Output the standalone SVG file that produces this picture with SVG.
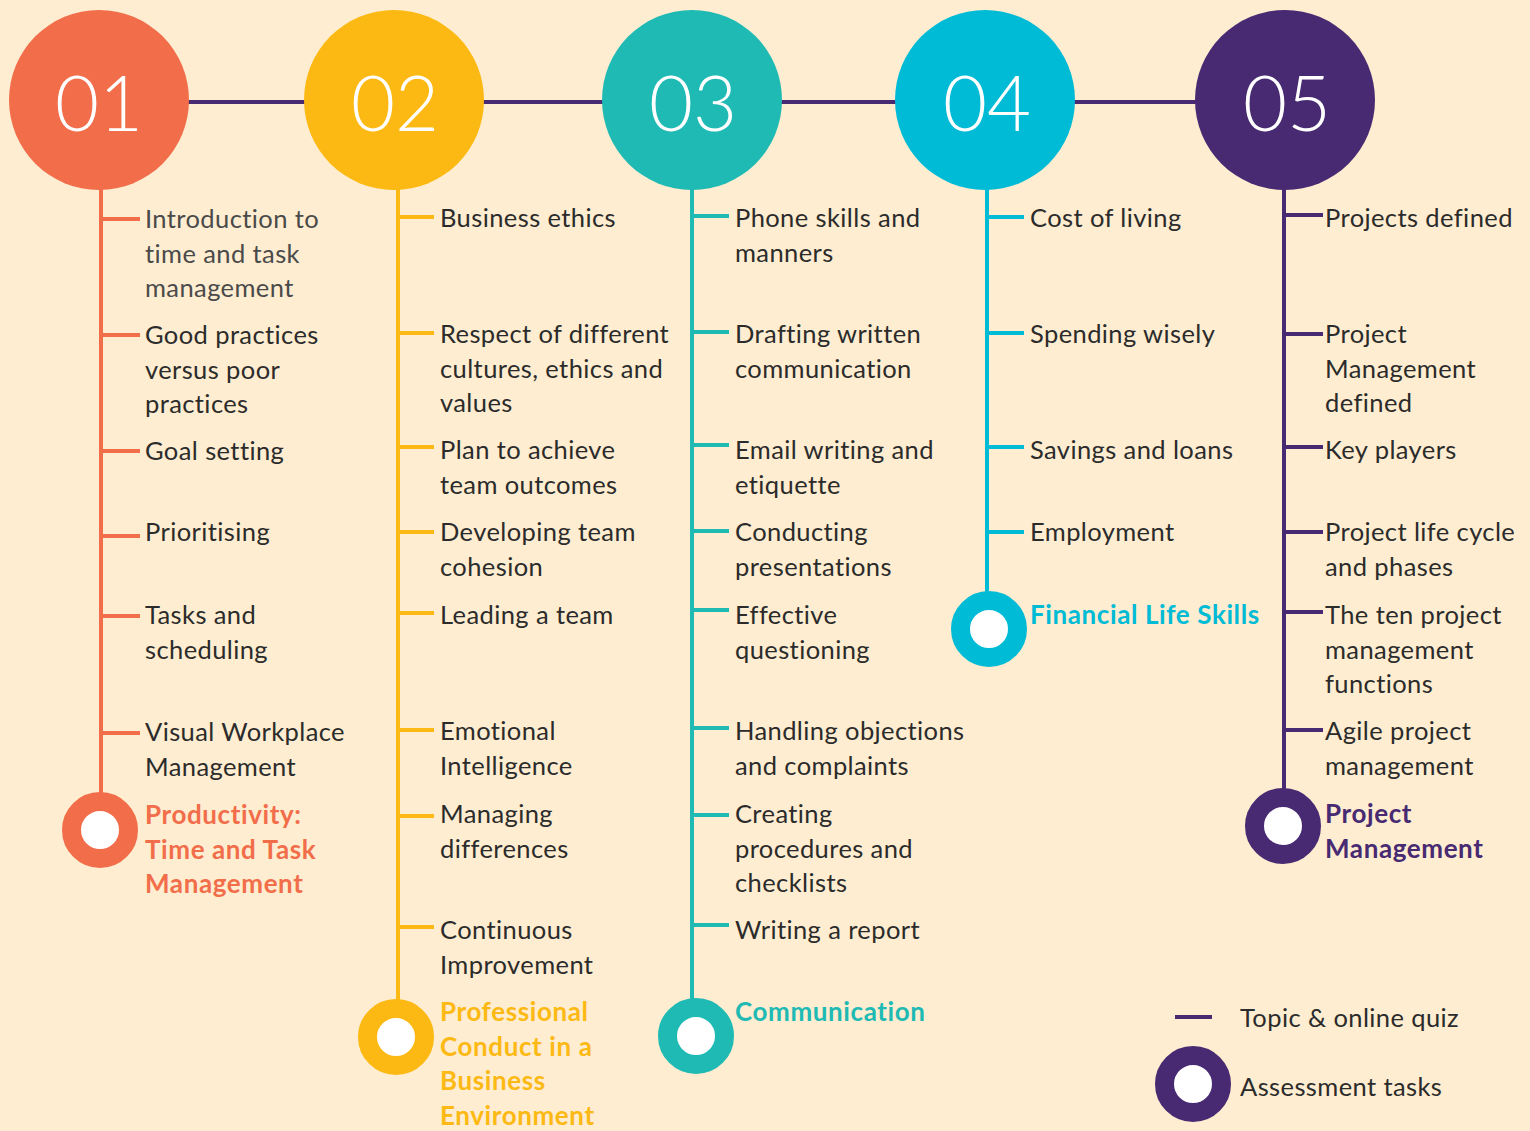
<svg xmlns="http://www.w3.org/2000/svg" width="1530" height="1131" viewBox="0 0 1530 1131">
<style>
.t{font-family:"Lato","Noto Sans","Liberation Sans",sans-serif;font-size:25.5px;letter-spacing:0.4px;fill:#2b2b2b}
.g{fill:#4a4a4a}
.b{font-family:"Lato","Noto Sans","Liberation Sans",sans-serif;font-size:26px;letter-spacing:0.6px;font-weight:700}
.num{font-family:"Lato","Noto Sans","Liberation Sans",sans-serif;font-size:76px;font-weight:300;fill:#ffffff;text-anchor:middle}
.c1{stroke:#f26d4a}.c2{stroke:#fdb913}.c3{stroke:#1fbab4}.c4{stroke:#00bbd6}.c5{stroke:#472a72}
.f1{fill:#f26d4a}.f2{fill:#fdb913}.f3{fill:#1fbab4}.f4{fill:#00bbd6}.f5{fill:#472a72}
.ln{stroke-width:4;fill:none}
</style>
<rect width="1530" height="1131" fill="#feedd0"/>
<g id="connectors">
<line x1="150" y1="102" x2="1250" y2="102" class="ln c5"/>
<g class="ln c1">
<line x1="101" y1="185" x2="101" y2="800"/>
<line x1="101" y1="219" x2="140" y2="219"/>
<line x1="101" y1="335" x2="140" y2="335"/>
<line x1="101" y1="451" x2="140" y2="451"/>
<line x1="101" y1="536" x2="140" y2="536"/>
<line x1="101" y1="616" x2="140" y2="616"/>
<line x1="101" y1="733" x2="140" y2="733"/>
</g>
<g class="ln c2">
<line x1="398" y1="185" x2="398" y2="1005"/>
<line x1="398" y1="217" x2="434" y2="217"/>
<line x1="398" y1="333" x2="434" y2="333"/>
<line x1="398" y1="447" x2="434" y2="447"/>
<line x1="398" y1="532" x2="434" y2="532"/>
<line x1="398" y1="613" x2="434" y2="613"/>
<line x1="398" y1="730" x2="434" y2="730"/>
<line x1="398" y1="816" x2="434" y2="816"/>
<line x1="398" y1="927" x2="434" y2="927"/>
</g>
<g class="ln c3">
<line x1="692" y1="185" x2="692" y2="1005"/>
<line x1="692" y1="216" x2="729" y2="216"/>
<line x1="692" y1="332" x2="729" y2="332"/>
<line x1="692" y1="445" x2="729" y2="445"/>
<line x1="692" y1="531" x2="729" y2="531"/>
<line x1="692" y1="610" x2="729" y2="610"/>
<line x1="692" y1="728" x2="729" y2="728"/>
<line x1="692" y1="815" x2="729" y2="815"/>
<line x1="692" y1="925" x2="729" y2="925"/>
</g>
<g class="ln c4">
<line x1="987" y1="185" x2="987" y2="597"/>
<line x1="987" y1="217" x2="1024" y2="217"/>
<line x1="987" y1="333" x2="1024" y2="333"/>
<line x1="987" y1="447" x2="1024" y2="447"/>
<line x1="987" y1="532" x2="1024" y2="532"/>
</g>
<g class="ln c5">
<line x1="1284" y1="185" x2="1284" y2="795"/>
<line x1="1284" y1="215" x2="1323" y2="215"/>
<line x1="1284" y1="334" x2="1323" y2="334"/>
<line x1="1284" y1="447" x2="1323" y2="447"/>
<line x1="1284" y1="532" x2="1323" y2="532"/>
<line x1="1284" y1="612" x2="1323" y2="612"/>
<line x1="1284" y1="730" x2="1323" y2="730"/>
</g>
</g>
<g id="node-01">
<circle cx="99" cy="100" r="90" class="f1"/>
<text x="99" y="131" class="num">01</text>
</g>
<g id="node-02">
<circle cx="394" cy="100" r="90" class="f2"/>
<text x="395" y="131" class="num">02</text>
</g>
<g id="node-03">
<circle cx="692" cy="100" r="90" class="f3"/>
<text x="693" y="131" class="num">03</text>
</g>
<g id="node-04">
<circle cx="985" cy="100" r="90" class="f4"/>
<text x="987" y="131" class="num">04</text>
</g>
<g id="node-05">
<circle cx="1285" cy="100" r="90" class="f5"/>
<text x="1287" y="131" class="num">05</text>
</g>
<g id="col1-items">
<text x="145" y="228" class="t g"><tspan x="145">Introduction to</tspan><tspan x="145" dy="34.5">time and task</tspan><tspan x="145" dy="34.5">management</tspan></text>
<text x="145" y="344" class="t"><tspan x="145">Good practices</tspan><tspan x="145" dy="34.5">versus poor</tspan><tspan x="145" dy="34.5">practices</tspan></text>
<text x="145" y="460" class="t">Goal setting</text>
<text x="145" y="541" class="t">Prioritising</text>
<text x="145" y="624" class="t"><tspan x="145">Tasks and</tspan><tspan x="145" dy="34.5">scheduling</tspan></text>
<text x="145" y="741" class="t"><tspan x="145">Visual Workplace</tspan><tspan x="145" dy="34.5">Management</tspan></text>
</g>
<g id="assess-1">
<circle cx="100" cy="830" r="28.5" fill="#ffffff" stroke="#f26d4a" stroke-width="19"/>
<text x="145" y="824" class="b f1"><tspan x="145">Productivity:</tspan><tspan x="145" dy="34.5">Time and Task</tspan><tspan x="145" dy="34.5">Management</tspan></text>
</g>
<g id="col2-items">
<text x="440" y="227" class="t">Business ethics</text>
<text x="440" y="343" class="t"><tspan x="440">Respect of different</tspan><tspan x="440" dy="34.5">cultures, ethics and</tspan><tspan x="440" dy="34.5">values</tspan></text>
<text x="440" y="459" class="t"><tspan x="440">Plan to achieve</tspan><tspan x="440" dy="34.5">team outcomes</tspan></text>
<text x="440" y="541" class="t"><tspan x="440">Developing team</tspan><tspan x="440" dy="34.5">cohesion</tspan></text>
<text x="440" y="624" class="t">Leading a team</text>
<text x="440" y="740" class="t"><tspan x="440">Emotional</tspan><tspan x="440" dy="34.5">Intelligence</tspan></text>
<text x="440" y="823" class="t"><tspan x="440">Managing</tspan><tspan x="440" dy="34.5">differences</tspan></text>
<text x="440" y="939" class="t"><tspan x="440">Continuous</tspan><tspan x="440" dy="34.5">Improvement</tspan></text>
</g>
<g id="assess-2">
<circle cx="396" cy="1037" r="28.5" fill="#ffffff" stroke="#fdb913" stroke-width="19"/>
<text x="440" y="1021" class="b f2"><tspan x="440">Professional</tspan><tspan x="440" dy="34.5">Conduct in a</tspan><tspan x="440" dy="34.5">Business</tspan><tspan x="440" dy="34.5">Environment</tspan></text>
</g>
<g id="col3-items">
<text x="735" y="227" class="t"><tspan x="735">Phone skills and</tspan><tspan x="735" dy="34.5">manners</tspan></text>
<text x="735" y="343" class="t"><tspan x="735">Drafting written</tspan><tspan x="735" dy="34.5">communication</tspan></text>
<text x="735" y="459" class="t"><tspan x="735">Email writing and</tspan><tspan x="735" dy="34.5">etiquette</tspan></text>
<text x="735" y="541" class="t"><tspan x="735">Conducting</tspan><tspan x="735" dy="34.5">presentations</tspan></text>
<text x="735" y="624" class="t"><tspan x="735">Effective</tspan><tspan x="735" dy="34.5">questioning</tspan></text>
<text x="735" y="740" class="t"><tspan x="735">Handling objections</tspan><tspan x="735" dy="34.5">and complaints</tspan></text>
<text x="735" y="823" class="t"><tspan x="735">Creating</tspan><tspan x="735" dy="34.5">procedures and</tspan><tspan x="735" dy="34.5">checklists</tspan></text>
<text x="735" y="939" class="t">Writing a report</text>
</g>
<g id="assess-3">
<circle cx="696" cy="1036" r="28.5" fill="#ffffff" stroke="#1fbab4" stroke-width="19"/>
<text x="735" y="1021" class="b f3">Communication</text>
</g>
<g id="col4-items">
<text x="1030" y="227" class="t">Cost of living</text>
<text x="1030" y="343" class="t">Spending wisely</text>
<text x="1030" y="459" class="t">Savings and loans</text>
<text x="1030" y="541" class="t">Employment</text>
</g>
<g id="assess-4">
<circle cx="989" cy="629" r="28.5" fill="#ffffff" stroke="#00bbd6" stroke-width="19"/>
<text x="1030" y="624" class="b f4">Financial Life Skills</text>
</g>
<g id="col5-items">
<text x="1325" y="227" class="t">Projects defined</text>
<text x="1325" y="343" class="t"><tspan x="1325">Project</tspan><tspan x="1325" dy="34.5">Management</tspan><tspan x="1325" dy="34.5">defined</tspan></text>
<text x="1325" y="459" class="t">Key players</text>
<text x="1325" y="541" class="t"><tspan x="1325">Project life cycle</tspan><tspan x="1325" dy="34.5">and phases</tspan></text>
<text x="1325" y="624" class="t"><tspan x="1325">The ten project</tspan><tspan x="1325" dy="34.5">management</tspan><tspan x="1325" dy="34.5">functions</tspan></text>
<text x="1325" y="740" class="t"><tspan x="1325">Agile project</tspan><tspan x="1325" dy="34.5">management</tspan></text>
</g>
<g id="assess-5">
<circle cx="1283" cy="826" r="28.5" fill="#ffffff" stroke="#472a72" stroke-width="19"/>
<text x="1325" y="823" class="b f5"><tspan x="1325">Project</tspan><tspan x="1325" dy="34.5">Management</tspan></text>
</g>
<g id="legend">
<line x1="1175" y1="1017" x2="1212" y2="1017" class="ln c5"/>
<text x="1240" y="1027" class="t">Topic &amp; online quiz</text>
<circle cx="1193" cy="1084" r="28.5" fill="#ffffff" stroke="#472a72" stroke-width="19"/>
<text x="1240" y="1096" class="t">Assessment tasks</text>
</g>
</svg>
